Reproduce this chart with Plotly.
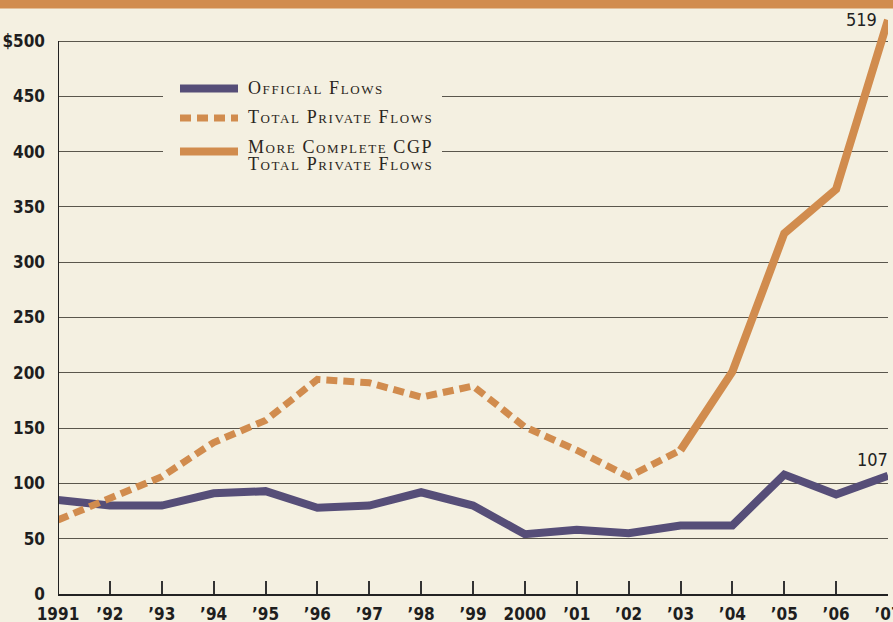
import plotly.graph_objects as go

years = list(range(1991, 2008))
official = [85, 80, 80, 91, 93, 78, 80, 92, 80, 54, 58, 55, 62, 62, 108, 90, 107]
private_years = list(range(1991, 2004))
total_private = [67, 86, 106, 137, 157, 194, 191, 178, 188, 151, 130, 106, 130]
cgp_years = [2003, 2004, 2005, 2006, 2007]
cgp_private = [130, 201, 326, 366, 519]
x_labels = ["1991", "’92", "’93", "’94", "’95", "’96", "’97", "’98", "’99", "2000",
            "’01", "’02", "’03", "’04", "’05", "’06", "’07"]
y_vals = [0, 50, 100, 150, 200, 250, 300, 350, 400, 450, 500]
y_labels = ["0", "50", "100", "150", "200", "250", "300", "350", "400", "450", "$500"]
legend_lines = ["Official Flows", "Total Private Flows", "More Complete CGP", "Total Private Flows"]

BG = "#F4F0E1"
PURPLE = "#564E78"
ORANGE = "#D18C4E"
NARROW = "Liberation Sans Narrow, DejaVu Sans Condensed, Arial Narrow, sans-serif"
SERIF = "Liberation Serif, DejaVu Serif, serif"

W, H = 893, 622
L, R, T, B = 58, 5, 0, 28
PW, PH = W - L - R, H - T - B


def px(x):
    return (x - L) / PW


def py(y):
    return (H - B - y) / PH


fig = go.Figure()
fig.add_trace(go.Scatter(x=years, y=official, mode="lines",
                         line=dict(color=PURPLE, width=8), showlegend=False))
fig.add_trace(go.Scatter(x=private_years, y=total_private, mode="lines",
                         line=dict(color=ORANGE, width=7, dash="11px,6px"), showlegend=False))
fig.add_trace(go.Scatter(x=cgp_years, y=cgp_private, mode="lines",
                         line=dict(color=ORANGE, width=8), showlegend=False))

shapes = []
# top band
shapes.append(dict(type="rect", xref="paper", yref="paper", x0=px(0), x1=px(W), y0=py(8.5), y1=py(0),
                   fillcolor=ORANGE, line=dict(width=0), layer="above"))
# left axis line (0 to 500)
shapes.append(dict(type="line", xref="x", yref="y", x0=1991, x1=1991, y0=0, y1=500,
                   line=dict(color="#222222", width=2), layer="above"))
# legend background to interrupt gridlines
shapes.append(dict(type="rect", xref="paper", yref="paper", x0=px(163), x1=px(442), y0=py(185), y1=py(70),
                   fillcolor=BG, line=dict(width=0), layer="above"))
# legend samples
shapes.append(dict(type="line", xref="paper", yref="paper", x0=px(180), x1=px(238), y0=py(88.5), y1=py(88.5),
                   line=dict(color=PURPLE, width=8), layer="above"))
shapes.append(dict(type="line", xref="paper", yref="paper", x0=px(180), x1=px(238), y0=py(118), y1=py(118),
                   line=dict(color=ORANGE, width=7, dash="11px,6px"), layer="above"))
shapes.append(dict(type="line", xref="paper", yref="paper", x0=px(180), x1=px(238), y0=py(151.5), y1=py(151.5),
                   line=dict(color=ORANGE, width=8), layer="above"))

annotations = []
legend_y = [88, 117, 147.5, 164]
for name, yy in zip(legend_lines, legend_y):
    annotations.append(dict(x=px(247), y=py(yy), xref="paper", yref="paper", text=name, showarrow=False,
                            xanchor="left", yanchor="middle", align="left", borderpad=0,
                            font=dict(family=SERIF, size=18, color="#2a2520", variant="small-caps")))
annotations.append(dict(x=2007, y=cgp_private[-1], xref="x", yref="y", text=str(cgp_private[-1]),
                        showarrow=False, xanchor="right", yanchor="middle", xshift=-9, yshift=0,
                        font=dict(family=NARROW, size=18, color="#222222")))
annotations.append(dict(x=2007, y=official[-1], xref="x", yref="y", text=str(official[-1]),
                        showarrow=False, xanchor="right", yanchor="bottom", xshift=2, yshift=4,
                        font=dict(family=NARROW, size=18, color="#222222")))

fig.update_layout(
    width=W, height=H,
    margin=dict(l=L, r=R, t=T, b=B, autoexpand=False),
    paper_bgcolor=BG, plot_bgcolor=BG,
    shapes=shapes, annotations=annotations,
    showlegend=False,
    xaxis=dict(range=[1991, 2007], tickvals=years, ticktext=x_labels, showgrid=False, zeroline=False,
               automargin=False, ticklabeloverflow="allow",
               showline=True, linecolor="#222222", linewidth=2,
               ticks="inside", ticklen=13, tickwidth=1.5, tickcolor="#333333",
               tickfont=dict(family=NARROW, size=17, color="#1e1e1e", weight="bold"),
               ticklabelstandoff=4),
    yaxis=dict(range=[0, PH / 1.106], tickvals=y_vals, ticktext=y_labels, showgrid=True,
               automargin=False,
               gridcolor="#5a564c", gridwidth=1.3, zeroline=False, showline=False, ticks="",
               tickfont=dict(family=NARROW, size=17, color="#1e1e1e", weight="bold"),
               ticklabelstandoff=12),
)

post = (
    "document.body.style.margin='0';"
    "document.body.style.background='" + BG + "';"
    "var gd=document.querySelector('.plotly-graph-div');"
    "gd.querySelectorAll('g.annotation').forEach(function(g){"
    "var i=+g.getAttribute('data-index');"
    "if(i<4){var t=g.querySelector('text');if(t){t.style.letterSpacing='1.6px';}}});"
)

fig.write_html("out.html", post_script=post, config={"displayModeBar": False})
